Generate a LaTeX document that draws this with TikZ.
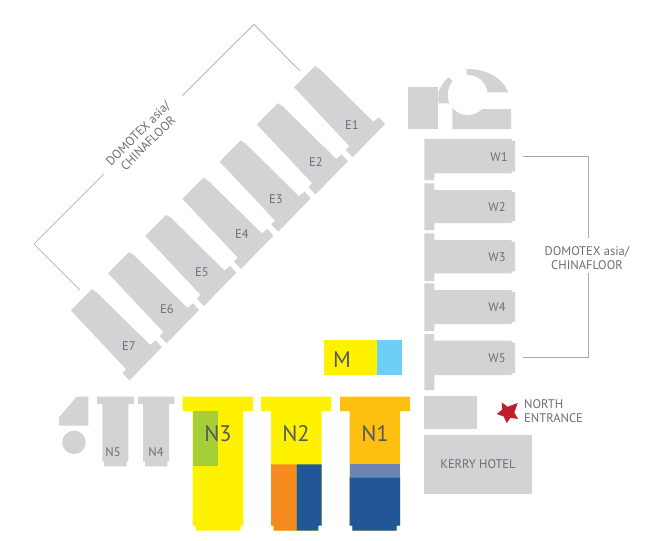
\documentclass[tikz,border=0pt]{standalone}
\usepackage{fontspec}
\setmainfont{PT Sans}
\definecolor{hallgray}{HTML}{D1D3D4}
\definecolor{txtgray}{HTML}{6D6E71}
\definecolor{linegray}{HTML}{A7A9AC}
\definecolor{ylw}{HTML}{FFF200}
\definecolor{grn}{HTML}{A6CE39}
\definecolor{org}{HTML}{F58B1F}
\definecolor{blu}{HTML}{215797}
\definecolor{gld}{HTML}{FDBF10}
\definecolor{bnd}{HTML}{6D85B5}
\definecolor{sky}{HTML}{6DCFF6}
\definecolor{strd}{HTML}{BE1E2D}
\definecolor{bigtxt}{HTML}{58595B}
\newcommand{\ehallpath}{(315,66) -- (320,69.3) -- (373.3,121.7) -- (379,117.3) -- (385,124) -- (352.7,157.3) -- (345.7,150) -- (349.3,146) -- (296.7,90) -- (294,87.3) -- cycle}
\newcommand{\whallpath}[4]{(424.3,#1) -- (434.3,#1) -- (434.3,#2) -- (511.7,#2) -- (511.7,#2+2) -- (515,#2+2) -- (515,#3-2) -- (511.7,#3-2) -- (511.7,#3) -- (434.3,#3) -- (434.3,#4) -- (424.3,#4) -- cycle}
\newcommand{\nstem}[8]{(#1,396.7) -- (#2,396.7) -- (#2,#7) -- (#4,#7) -- (#4,#8-5) -- (#6,#8-5) -- (#6,#8) -- (#5,#8) -- (#5,#8-5) -- (#3,#8-5) -- (#3,#7) -- (#1,#7) -- cycle}
\tikzset{x=1pt,y=-1pt,
  hall/.style={fill=hallgray},
  bracket/.style={draw=linegray,line width=0.7pt},
  lbl/.style={text=txtgray,font=\fontsize{12.5}{14}\selectfont,inner sep=0pt,align=center},
  biglbl/.style={text=bigtxt,font=\fontsize{22.5}{24}\selectfont,inner sep=0pt}}
\begin{document}
\begin{tikzpicture}
\useasboundingbox (0,0) rectangle (667,541);
\fill[white] (0,0) rectangle (667,541);
% East halls
\foreach \i in {0,...,6}{
  \fill[hall,shift={({-37.2*\i*1pt},{-37.2*\i*1pt})}] \ehallpath;
}
% West halls
\fill[hall] (424.3,139) -- (511.7,139) -- (511.7,141) -- (515,141) -- (515,171.5) -- (511.7,171.5) -- (511.7,173.3) -- (434.3,173.3) -- (434.3,180) -- (424.3,180) -- cycle;
\fill[hall] \whallpath{183.3}{190}{223}{230};
\fill[hall] \whallpath{233.3}{240}{273.3}{281};
\fill[hall] \whallpath{283.3}{290}{324}{331};
\fill[hall] \whallpath{334}{340.7}{375}{390};
% Top-right building
\fill[hall] (408.3,86.7) -- (438.3,86.7) -- (438.3,129) -- (408.3,129) -- cycle;
\fill[hall] (438.3,91.7) .. controls (441,86) and (444,81) .. (448.3,77.3) -- (452.3,80.7) -- (456,103.3) -- (438.3,103.3) -- cycle;
\fill[hall] (452.3,100) -- (470,100) -- (470,109) -- (511,109) -- (511,129) -- (452.3,129) -- cycle;
\fill[hall] (466.7,69) .. controls (486,69) and (502,77) .. (508.3,92.3) -- (470,92.3) -- (466.7,80) -- cycle;
\fill[white] (467.7,95) circle[radius=20];
% North-west pieces
\fill[hall] (59,417.3) -- (76.7,396.7) -- (88.3,396.7) -- (88.3,425.7) -- (59,425.7) -- cycle;
\fill[hall] (74,442.3) circle[radius=11.7];
\fill[hall] \nstem{97}{134}{102.3}{128.3}{104}{126.7}{404}{466.3};
\fill[hall] \nstem{138}{174.3}{143}{169}{145}{167.3}{404}{466.3};
% N3
\fill[ylw] \nstem{182.7}{253}{192.7}{243.3}{195.7}{240.7}{411}{530.7};
\fill[grn] (192.7,411) rectangle (217.7,466);
% N2
\fill[ylw] \nstem{261}{331}{271}{321.7}{273.7}{318.3}{411}{530.7};
\fill[org] (271,464.3) -- (296.7,464.3) -- (296.7,530.7) -- (273.7,530.7) -- (273.7,525.7) -- (271,525.7) -- cycle;
\fill[blu] (296.7,464.3) -- (321.7,464.3) -- (321.7,525.7) -- (318.3,525.7) -- (318.3,530.7) -- (296.7,530.7) -- cycle;
% N1
\fill[gld] \nstem{340}{410}{349.7}{400}{352.3}{396.7}{411}{530.7};
\fill[blu] (349.7,477.3) -- (400,477.3) -- (400,525.7) -- (396.7,525.7) -- (396.7,530.7) -- (352.3,530.7) -- (352.3,525.7) -- (349.7,525.7) -- cycle;
\fill[bnd] (349.7,464.3) rectangle (400,477.3);
% M
\fill[ylw] (323.7,340) rectangle (376.7,375);
\fill[sky] (376.7,340) rectangle (401.7,375);
% Hotel
\fill[hall] (424.3,395.7) rectangle (477.3,429.3);
\fill[hall] (424,435.3) rectangle (532,494.3);
% Star
\fill[strd] (501.7,402.3) -- (507.5,406.8) -- (517.7,403) -- (514.3,412.5) -- (518,419) -- (510.5,417.8) -- (506.7,423) -- (503.7,416.5) -- (496.7,414) -- (502.3,409.5) -- cycle;
% Brackets
\coordinate (ea) at (182.3,95.7);
\coordinate (eb) at (254,24.3);
\coordinate (ec) at (300,71);
\coordinate (ed) at (104,174);
\coordinate (ee) at (34,244);
\coordinate (ef) at (80,290);
\coordinate (wa) at (523.3,156);
\coordinate (wb) at (588.7,156);
\coordinate (wc) at (588.7,238.3);
\coordinate (wd) at (588.7,273.3);
\coordinate (we) at (588.7,357.3);
\coordinate (wf) at (523.3,357.3);
\draw[bracket] (ea) -- (eb) -- (ec);
\draw[bracket] (ed) -- (ee) -- (ef);
\draw[bracket] (wa) -- (wb) -- (wc);
\draw[bracket] (wd) -- (we) -- (wf);
% Labels
\node[lbl,rotate=45] (domE) at (143,138) {DOMOTEX asia/\\CHINAFLOOR};
\node[lbl] (domW) at (587,258) {DOMOTEX asia/\\CHINAFLOOR};
\node[lbl] (e1) at (352,125) {E1};
\node[lbl] (e2) at (316,162) {E2};
\node[lbl] (e3) at (276,199) {E3};
\node[lbl] (e4) at (242,234) {E4};
\node[lbl] (e5) at (202,272) {E5};
\node[lbl] (e6) at (167,309) {E6};
\node[lbl] (e7) at (129,346) {E7};
\node[lbl] (w1) at (499,157) {W1};
\node[lbl] (w2) at (497,207) {W2};
\node[lbl] (w3) at (497,257) {W3};
\node[lbl] (w4) at (497,307) {W4};
\node[lbl] (w5) at (497,358) {W5};
\node[lbl] (n5) at (113,452) {N5};
\node[lbl] (n4) at (156,452) {N4};
\node[biglbl] (n3) at (218,434) {N3};
\node[biglbl] (n2) at (296,434) {N2};
\node[biglbl] (n1) at (375,434) {N1};
\node[biglbl] (m) at (342,360) {M};
\node[lbl] (kerry) at (478,464) {KERRY HOTEL};
\node[lbl,align=left,anchor=west] (north) at (524,411.5) {NORTH\\ENTRANCE};
\end{tikzpicture}
\end{document}
